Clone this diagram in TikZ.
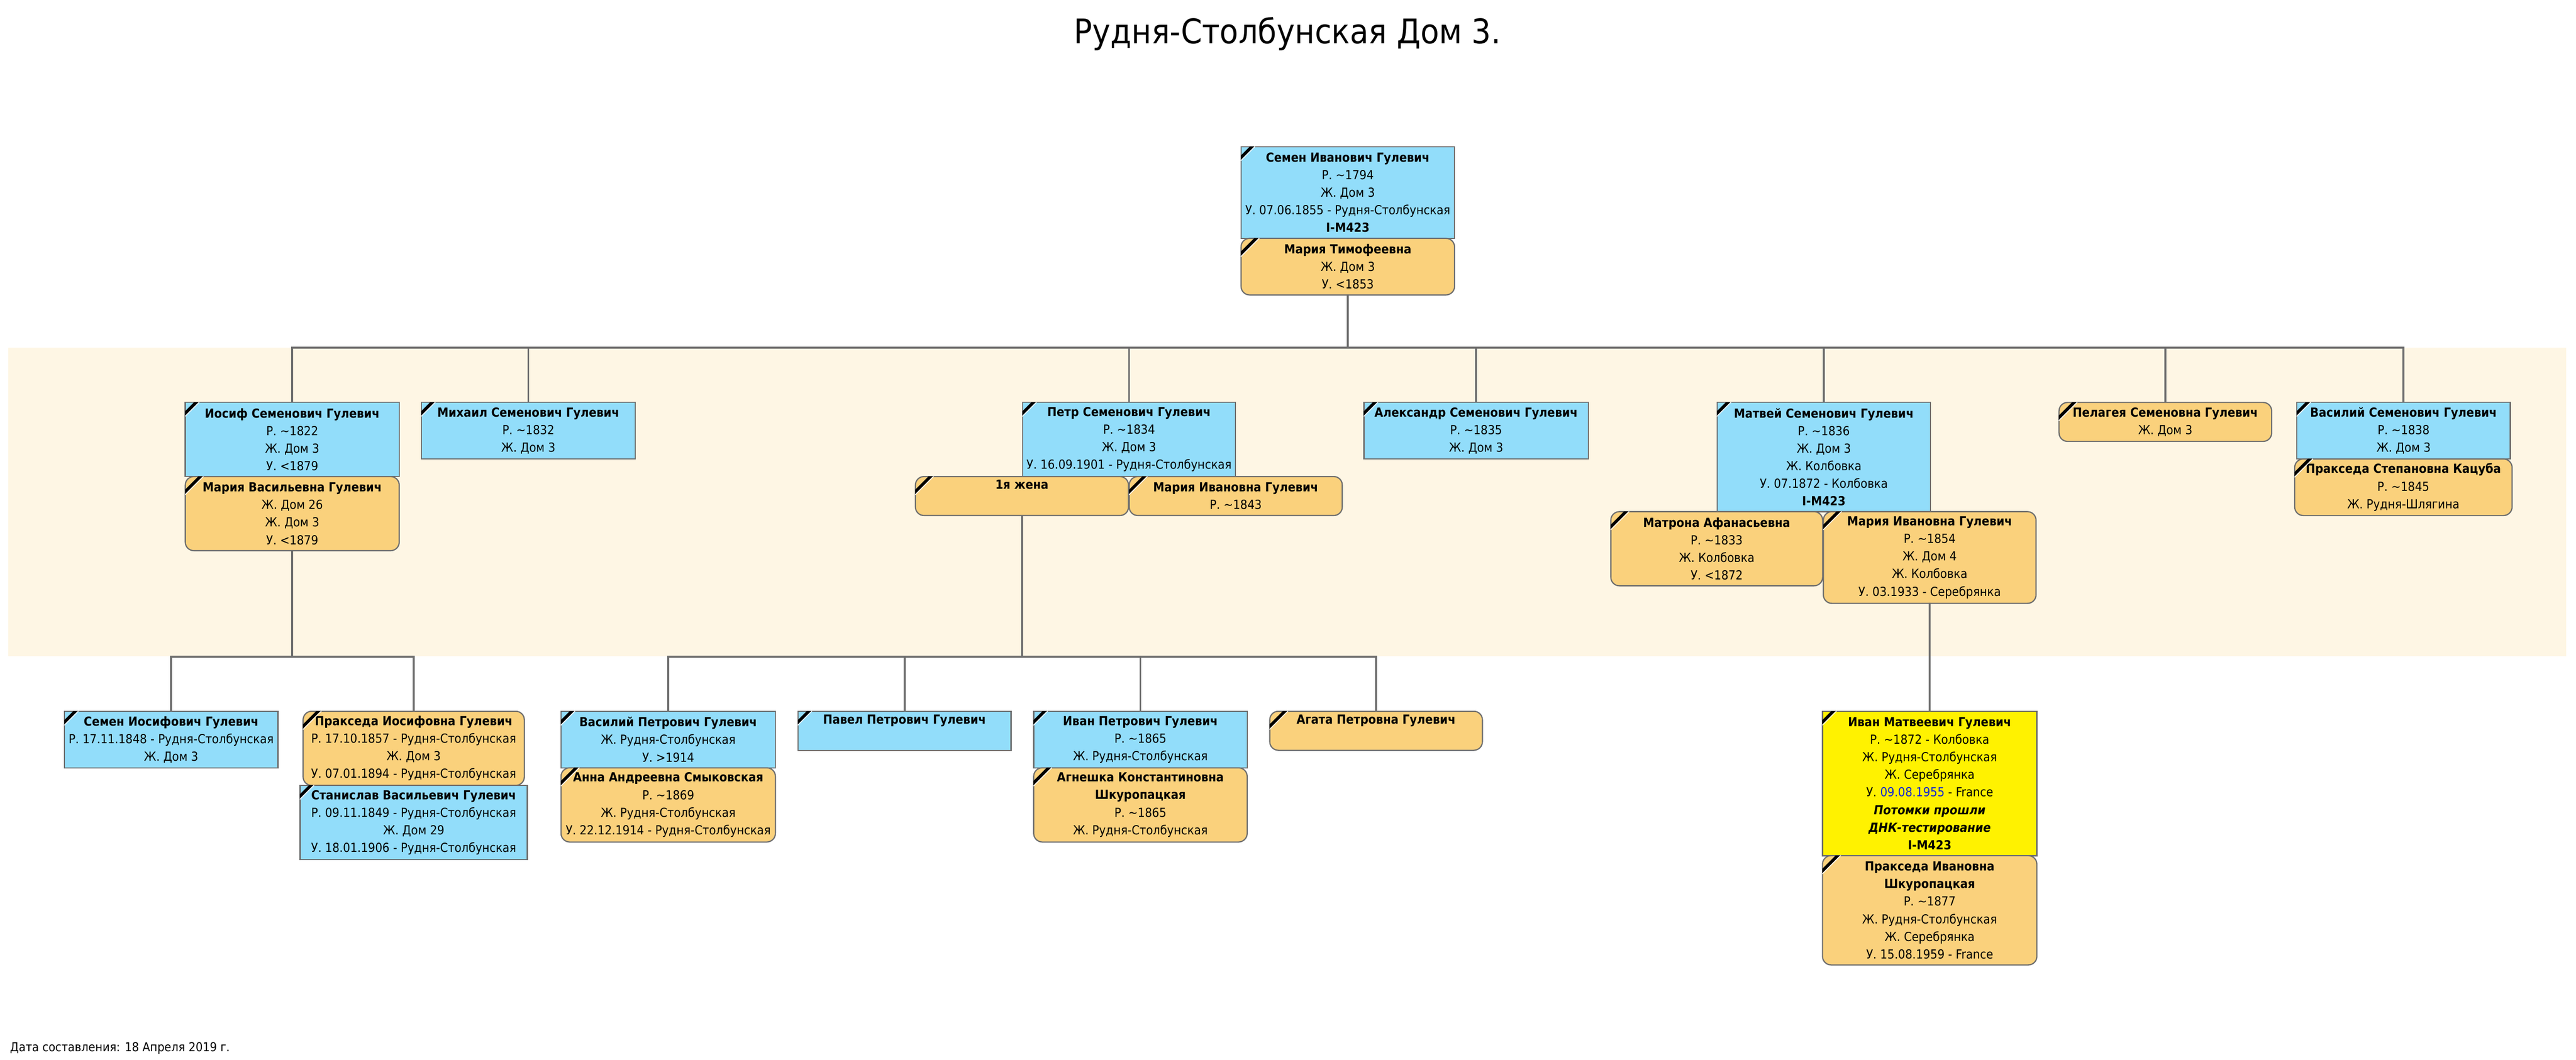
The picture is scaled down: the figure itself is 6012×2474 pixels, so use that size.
\documentclass[tikz,border=0pt]{standalone}
\usepackage{fontspec}
\setmainfont{DejaVu Sans Condensed}
\definecolor{manblue}{RGB}{146,221,250}
\definecolor{womanorange}{RGB}{250,209,124}
\definecolor{dnayellow}{RGB}{255,242,0}
\definecolor{bandcream}{RGB}{254,246,228}
\definecolor{edgegray}{RGB}{110,110,110}
\definecolor{dateblue}{RGB}{20,40,210}
\newcommand{\boxfont}{\fontsize{8.3}{11.67}\selectfont}
\newcommand{\apx}{\textasciitilde}

\begin{document}
\begin{tikzpicture}[x=0.01cm, y=-0.01cm,
        person/.style={draw=edgegray, line width=0.8pt, anchor=north west, inner sep=0pt,
                       minimum width=4.98cm, align=center, font=\boxfont},
        manbox/.style={person, fill=manblue},
        womanbox/.style={person, fill=womanorange, rounded corners=0.2cm},
        dnabox/.style={person, fill=dnayellow},
        nlines/.style={minimum height={0.41cm*(#1-1)+0.5cm}},
        link/.style={draw=edgegray, line width=1.3pt, line cap=rect}]

        \fill[white] (0,0) rectangle (6012,2474);
        \useasboundingbox (0,0) rectangle (6012,2474);
        \fill[bandcream] (19,812) rectangle (5989,1532);

        \coordinate (kids0) at (0,812);
        \coordinate (kids1) at (0,1533);

        \node[font=\fontsize{22.5}{27}\selectfont, anchor=base] (title) at (3005,102) {Рудня-Столбунская Дом 3.};
        \node[font=\fontsize{8.2}{10}\selectfont, anchor=base west, inner sep=0pt] (date) at (23,2455) {Дата составления: 18 Апреля 2019 г.};

        % Семен и Мария
        \node[manbox, nlines=5] (semen0) at (2895,341) {\textbf{Семен Иванович Гулевич}\\Р. \apx1794\\Ж. Дом 3\\У. 07.06.1855 - Рудня-Столбунская\\\textbf{I-M423}};
        \node[womanbox, nlines=3] (mariaT) at (2895,555) {\textbf{Мария Тимофеевна}\\Ж. Дом 3\\У. <1853};

        % дети
        \node[manbox, nlines=4, minimum width=4.99cm] (josef) at (431,938) {\textbf{Иосиф Семенович Гулевич}\\Р. \apx1822\\Ж. Дом 3\\У. <1879};
        \node[womanbox, nlines=4, minimum width=4.99cm] (mariaV) at (431,1111) {\textbf{Мария Васильевна Гулевич}\\Ж. Дом 26\\Ж. Дом 3\\У. <1879};
        \node[manbox, nlines=3, minimum width=4.99cm] (mikhail) at (982,938) {\textbf{Михаил Семенович Гулевич}\\Р. \apx1832\\Ж. Дом 3};
        \node[manbox, nlines=4, minimum width=4.97cm] (petr) at (2385,938) {\textbf{Петр Семенович Гулевич}\\Р. \apx1834\\Ж. Дом 3\\У. 16.09.1901 - Рудня-Столбунская};
        \node[womanbox, nlines=2, minimum width=4.97cm] (wife1) at (2135,1111) {\textbf{1я жена}\\\strut};
        \node[womanbox, nlines=2, minimum width=4.97cm] (mariaP) at (2634,1111) {\textbf{Мария Ивановна Гулевич}\\Р. \apx1843};
        \node[manbox, nlines=3, minimum width=5.23cm] (alex) at (3182,938) {\textbf{Александр Семенович Гулевич}\\Р. \apx1835\\Ж. Дом 3};
        \node[manbox, nlines=6] (matvey) at (4006,938) {\textbf{Матвей Семенович Гулевич}\\Р. \apx1836\\Ж. Дом 3\\Ж. Колбовка\\У. 07.1872 - Колбовка\\\textbf{I-M423}};
        \node[womanbox, nlines=4, minimum width=4.94cm] (matrona) at (3758,1193) {\textbf{Матрона Афанасьевна}\\Р. \apx1833\\Ж. Колбовка\\У. <1872};
        \node[womanbox, nlines=5, minimum width=4.96cm] (mariaM) at (4254,1193) {\textbf{Мария Ивановна Гулевич}\\Р. \apx1854\\Ж. Дом 4\\Ж. Колбовка\\У. 03.1933 - Серебрянка};
        \node[womanbox, nlines=2, minimum width=4.96cm] (pelageya) at (4804,938) {\textbf{Пелагея Семеновна Гулевич}\\Ж. Дом 3};
        \node[manbox, nlines=3] (vasS) at (5359,938) {\textbf{Василий Семенович Гулевич}\\Р. \apx1838\\Ж. Дом 3};
        \node[womanbox, nlines=3, minimum width=5.07cm] (praksS) at (5354,1070) {\textbf{Пракседа Степановна Кацуба}\\Р. \apx1845\\Ж. Рудня-Шлягина};

        % внуки
        \node[manbox, nlines=3] (semenI) at (149,1659) {\textbf{Семен Иосифович Гулевич}\\Р. 17.11.1848 - Рудня-Столбунская\\Ж. Дом 3};
        \node[womanbox, nlines=4, minimum width=5.16cm] (praksI) at (706,1659) {\textbf{Пракседа Иосифовна Гулевич}\\Р. 17.10.1857 - Рудня-Столбунская\\Ж. Дом 3\\У. 07.01.1894 - Рудня-Столбунская};
        \node[manbox, nlines=4, minimum width=5.30cm] (stanislav) at (699,1832) {\textbf{Станислав Васильевич Гулевич}\\Р. 09.11.1849 - Рудня-Столбунская\\Ж. Дом 29\\У. 18.01.1906 - Рудня-Столбунская};
        \node[manbox, nlines=3, minimum width=5.00cm] (vasP) at (1308,1659) {\textbf{Василий Петрович Гулевич}\\Ж. Рудня-Столбунская\\У. >1914};
        \node[womanbox, nlines=4, minimum width=5.00cm] (anna) at (1308,1791) {\textbf{Анна Андреевна Смыковская}\\Р. \apx1869\\Ж. Рудня-Столбунская\\У. 22.12.1914 - Рудня-Столбунская};
        \node[manbox, nlines=2, minimum width=4.97cm] (pavel) at (1861,1659) {\textbf{Павел Петрович Гулевич}\\\strut};
        \node[manbox, nlines=3] (ivanP) at (2411,1659) {\textbf{Иван Петрович Гулевич}\\Р. \apx1865\\Ж. Рудня-Столбунская};
        \node[womanbox, nlines=4] (agneshka) at (2411,1791) {\textbf{Агнешка Константиновна}\\\textbf{Шкуропацкая}\\Р. \apx1865\\Ж. Рудня-Столбунская};
        \node[womanbox, nlines=2, minimum width=4.96cm] (agata) at (2962,1659) {\textbf{Агата Петровна Гулевич}\\\strut};
        \node[dnabox, nlines=8, minimum width=5.00cm] (ivanM) at (4252,1659) {\textbf{Иван Матвеевич Гулевич}\\Р. \apx1872 - Колбовка\\Ж. Рудня-Столбунская\\Ж. Серебрянка\\У. \textcolor{dateblue}{09.08.1955} - France\\\textbf{\textit{Потомки прошли}}\\\textbf{\textit{ДНК-тестирование}}\\\textbf{I-M423}};
        \node[womanbox, nlines=6, minimum width=5.00cm] (praksM) at (4252,1996) {\textbf{Пракседа Ивановна}\\\textbf{Шкуропацкая}\\Р. \apx1877\\Ж. Рудня-Столбунская\\Ж. Серебрянка\\У. 15.08.1959 - France};

        % линии
        \draw[link] (mariaT.south) -- (mariaT.south |- kids0);
        \draw[link] (josef.north |- kids0) -- (vasS.north |- kids0);
        \foreach \n in {josef,mikhail,petr,alex,matvey,pelageya,vasS}
            \draw[link] (\n.north) -- (\n.north |- kids0);

        \draw[link] (mariaV.south) -- (mariaV.south |- kids1);
        \draw[link] (semenI.north |- kids1) -- (praksI.north |- kids1);
        \foreach \n in {semenI,praksI}
            \draw[link] (\n.north) -- (\n.north |- kids1);

        \draw[link] (wife1.south) -- (wife1.south |- kids1);
        \draw[link] (vasP.north |- kids1) -- (agata.north |- kids1);
        \foreach \n in {vasP,pavel,ivanP,agata}
            \draw[link] (\n.north) -- (\n.north |- kids1);

        \draw[link] (mariaM.south) -- (ivanM.north);

        % траурные уголки
        \foreach \n in {semen0,josef,mikhail,petr,alex,matvey,vasS,semenI,stanislav,vasP,pavel,ivanP,ivanM} {
            \begin{scope}[shift={(\n.north west)}]
                \fill[black] (1,22) -- (22,1) -- (32,1) -- (1,32) -- cycle;
                \draw[white, line width=0.5pt] (1,34) -- (34,1);
            \end{scope}
        }
        \foreach \n in {mariaT,mariaV,wife1,mariaP,matrona,mariaM,pelageya,praksS,praksI,anna,agneshka,agata,praksM} {
            \begin{scope}[shift={(\n.north west)}]
                \fill[black] (1,32) -- (32,1) -- (42,1) -- (1,42) -- cycle;
                \draw[white, line width=0.5pt] (1,44) -- (44,1);
            \end{scope}
        }
\end{tikzpicture}
\end{document}
